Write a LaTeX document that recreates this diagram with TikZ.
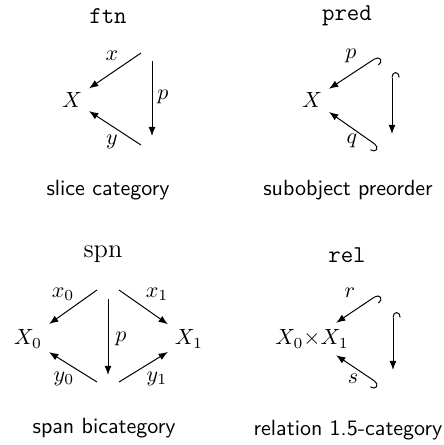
\documentclass[tikz,border=0pt]{standalone}
\usetikzlibrary{arrows.meta}
\begin{document}
\begin{tikzpicture}[x=0.4545pt,y=-0.4545pt,
  ar/.style={-{Latex[length=4.2pt,width=3.2pt]}, line width=0.45pt},
  hk/.style={{Hooks[right,width=7pt,length=2.5pt]}-{Latex[length=4.2pt,width=3.2pt]}, line width=0.45pt},
  obj/.style={inner sep=3pt},
  lbl/.style={inner sep=0pt},
  ttl/.style={font=\fontsize{11}{13}\selectfont\ttfamily},
  captxt/.style={font=\sffamily}]
\useasboundingbox (0,0) rectangle (444,445);
% panel 1
\node[ttl] (t1) at (108,16) {ftn};
\node[obj] (X1) at (72,100) {$X$};
\coordinate (a1) at (141,53);
\coordinate (b1) at (141,145);
\coordinate (p1s) at (152,61);
\coordinate (p1e) at (152,136);
\draw[ar] (a1) -- (X1);
\draw[ar] (b1) -- (X1);
\draw[ar] (p1s) -- (p1e);
\node[lbl] (lx) at (112,56) {$x$};
\node[lbl] (ly) at (112,142) {$y$};
\node[lbl] (lp) at (163,97) {$p$};
\node[captxt] (c1) at (108,190) {slice category};
% panel 2
\node[ttl] (t2) at (347,16) {pred};
\node[obj] (X2) at (312,100) {$X$};
\coordinate (a2) at (379,56);
\coordinate (b2) at (379,147);
\coordinate (v2s) at (392,72);
\coordinate (v2e) at (392,134);
\draw[hk] (a2) -- (X2);
\draw[hk] (b2) -- (X2);
\draw[hk] (v2s) -- (v2e);
\node[lbl] (lp2) at (351,56) {$p$};
\node[lbl] (lq2) at (352,141) {$q$};
\node[captxt] (c2) at (348,190) {subobject preorder};
% panel 3
\node[font=\fontsize{12}{14}\selectfont\rmfamily] (t3) at (103,254) {spn};
\node[obj] (X0) at (28,339) {$X_0$};
\node[obj] (X1b) at (189,339) {$X_1$};
\coordinate (a3l) at (97,290);
\coordinate (a3r) at (119,290);
\coordinate (b3l) at (97,382);
\coordinate (b3r) at (119,382);
\coordinate (p3s) at (108,299);
\coordinate (p3e) at (108,375);
\draw[ar] (a3l) -- (X0);
\draw[ar] (a3r) -- (X1b);
\draw[ar] (b3l) -- (X0);
\draw[ar] (b3r) -- (X1b);
\draw[ar] (p3s) -- (p3e);
\node[lbl] (lx0) at (63,294) {$x_0$};
\node[lbl] (lx1) at (157,294) {$x_1$};
\node[lbl] (lp3) at (121,339) {$p$};
\node[lbl] (ly0) at (64,379) {$y_0$};
\node[lbl] (ly1) at (157,379) {$y_1$};
\node[captxt] (c3) at (104,428) {span bicategory};
% panel 4
\node[ttl] (t4) at (347,255) {rel};
\node[obj] (P) at (312,339) {$X_0{\times}X_1$};
\coordinate (a4) at (379,294);
\coordinate (b4) at (379,384);
\coordinate (v4s) at (393,312);
\coordinate (v4e) at (393,370);
\draw[hk] (a4) -- (P);
\draw[hk] (b4) -- (P);
\draw[hk] (v4s) -- (v4e);
\node[lbl] (lr) at (350,293) {$r$};
\node[lbl] (ls) at (353,379) {$s$};
\node[captxt] (c4) at (348,430) {relation 1.5-category};
\end{tikzpicture}
\end{document}
